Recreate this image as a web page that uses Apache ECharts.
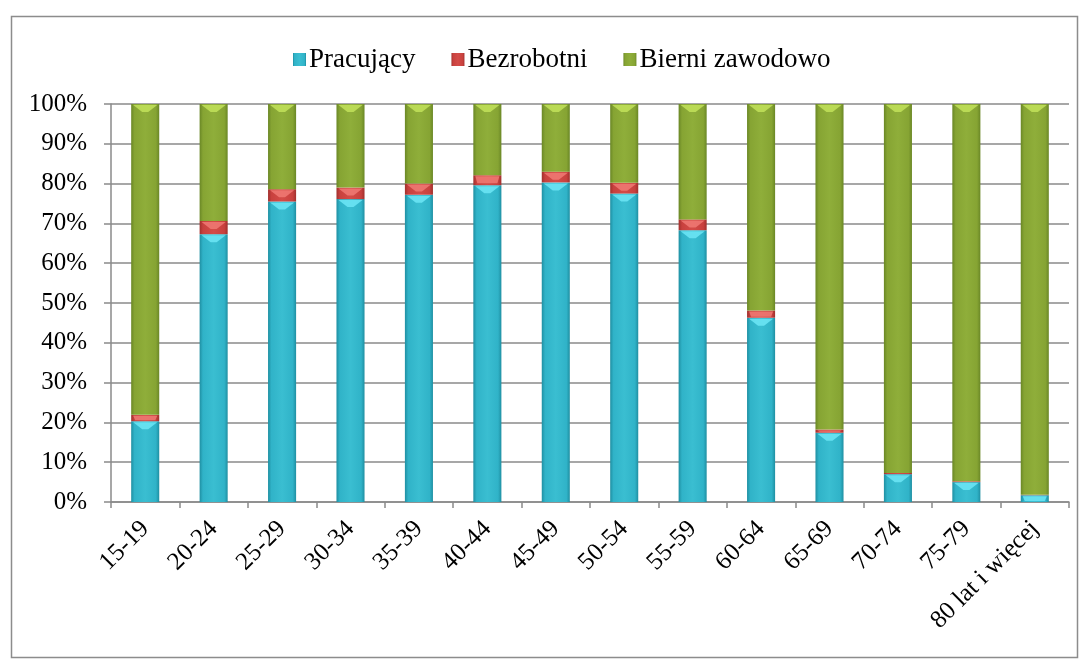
<!DOCTYPE html>
<html>
<head>
<meta charset="utf-8">
<script src="https://cdn.jsdelivr.net/npm/echarts@6/dist/echarts.min.js"></script>
<style>
  html, body { margin: 0; padding: 0; background: #fff; }
  #chart { width: 1085px; height: 664px; }
</style>
</head>
<body>
<div id="chart"></div>
<script>
// Age groups
const categories = ['15-19', '20-24', '25-29', '30-34', '35-39', '40-44', '45-49',
  '50-54', '55-59', '60-64', '65-69', '70-74', '75-79', '80 lat i więcej'];

// Shares of each age group (%)
const pracujacy = [20.3, 67.3, 75.5, 76.1, 77.2, 79.6, 80.3, 77.5, 68.3, 46.3, 17.4, 7.0, 5.0, 1.7];
const bezrobotni = [1.6, 3.3, 3.1, 2.9, 2.8, 2.5, 2.7, 2.7, 2.7, 1.8, 0.8, 0.3, 0.2, 0.1];
const bierni = [78.1, 29.4, 21.4, 21.0, 20.0, 17.9, 17.0, 19.8, 29.0, 51.9, 81.8, 92.7, 94.8, 98.2];

const yTicks = [0, 10, 20, 30, 40, 50, 60, 70, 80, 90, 100];

const FONT = '"Liberation Serif", "Times New Roman", serif';
const BAR_RATIO = 0.41;

function barGradient(edge, mid, light) {
  return new echarts.graphic.LinearGradient(0, 0, 1, 0, [
    { offset: 0, color: edge },
    { offset: 0.12, color: mid },
    { offset: 0.5, color: light },
    { offset: 0.88, color: mid },
    { offset: 1, color: edge }
  ]);
}

const palette = {
  prac: { edge: '#1f8fa2', mid: '#30b3c8', light: '#3abed1', cap: '#6de6f6' },
  bezr: { edge: '#a0302d', mid: '#c8413e', light: '#d44c48', cap: '#f07a74' },
  bier: { edge: '#6a8726', mid: '#86a433', light: '#8fae3a', cap: '#c2e25a' }
};

// Segment bounds for the bevel caps, derived from the stacked values
function segments(values, below) {
  return values.map((v, i) => {
    const base = below ? below[i] : 0;
    return [i, base, base + v];
  });
}
const cum1 = pracujacy.slice();
const cum2 = pracujacy.map((v, i) => v + bezrobotni[i]);

function capSeries(name, data, color) {
  return {
    type: 'custom',
    name: name,
    z: 5,
    silent: true,
    data: data,
    renderItem: function (params, api) {
      const idx = api.value(0);
      const bottom = api.coord([idx, api.value(1)]);
      const top = api.coord([idx, api.value(2)]);
      const band = api.size([1, 0])[0];
      const w = band * BAR_RATIO;
      const x0 = top[0] - w / 2 + 2;
      const x1 = top[0] + w / 2 - 2;
      const segH = bottom[1] - top[1];
      if (segH < 1.5) return null;
      const h = Math.min(8, segH - 1);
      const shape = segH > 10
        ? { points: [[x0, top[1] + 1], [x1, top[1] + 1], [top[0] + 3, top[1] + h], [top[0] - 3, top[1] + h]] }
        : { points: [[x0, top[1] + 1], [x1, top[1] + 1], [x1 - 2, top[1] + h], [x0 + 2, top[1] + h]] };
      return {
        type: 'polygon',
        shape: shape,
        style: { fill: color, opacity: 0.85 }
      };
    }
  };
}

const chart = echarts.init(document.getElementById('chart'), null, { renderer: 'canvas' });

const axisGray = '#8a8a8a';

chart.setOption({
  animation: false,
  backgroundColor: '#ffffff',
  graphic: [{
    type: 'rect',
    left: 9, top: 14,
    shape: { width: 1066, height: 641 },
    style: { fill: 'none', stroke: '#8c8c8c', lineWidth: 1.5 },
    z: -1
  }],
  legend: {
    data: ['Pracujący', 'Bezrobotni', 'Bierni zawodowo'],
    top: 41,
    left: 288,
    icon: 'rect',
    itemWidth: 13,
    itemHeight: 13,
    itemGap: 36,
    textStyle: { fontFamily: FONT, fontSize: 27, color: '#000', padding: [0, 0, 0, -2] }
  },
  grid: { left: 111, right: 16, top: 104, bottom: 162 },
  xAxis: {
    type: 'category',
    data: categories,
    axisLine: { lineStyle: { color: axisGray, width: 1.5 } },
    axisTick: { show: true, length: 6, lineStyle: { color: axisGray, width: 1.5 } },
    axisLabel: {
      rotate: 45, interval: 0, margin: 23,
      fontFamily: FONT, fontSize: 25, color: '#000'
    }
  },
  yAxis: {
    type: 'value',
    min: yTicks[0],
    max: yTicks[yTicks.length - 1],
    interval: yTicks[1] - yTicks[0],
    axisLine: { show: true, lineStyle: { color: axisGray, width: 1.5 } },
    axisTick: { show: true, length: 7, lineStyle: { color: axisGray, width: 1.5 } },
    splitLine: { lineStyle: { color: axisGray, width: 1.5 } },
    axisLabel: {
      formatter: '{value}%', margin: 24,
      fontFamily: FONT, fontSize: 25, color: '#000'
    }
  },
  series: [
    {
      name: 'Pracujący', type: 'bar', stack: 'total', barWidth: (BAR_RATIO * 100) + '%',
      data: pracujacy,
      itemStyle: { color: barGradient(palette.prac.edge, palette.prac.mid, palette.prac.light) }
    },
    {
      name: 'Bezrobotni', type: 'bar', stack: 'total', barWidth: (BAR_RATIO * 100) + '%',
      data: bezrobotni,
      itemStyle: { color: barGradient(palette.bezr.edge, palette.bezr.mid, palette.bezr.light) }
    },
    {
      name: 'Bierni zawodowo', type: 'bar', stack: 'total', barWidth: (BAR_RATIO * 100) + '%',
      data: bierni,
      itemStyle: { color: barGradient(palette.bier.edge, palette.bier.mid, palette.bier.light) }
    },
    capSeries('cap-prac', segments(pracujacy), palette.prac.cap),
    capSeries('cap-bezr', segments(bezrobotni, cum1), palette.bezr.cap),
    capSeries('cap-bier', segments(bierni, cum2), palette.bier.cap)
  ]
});
</script>
</body>
</html>
